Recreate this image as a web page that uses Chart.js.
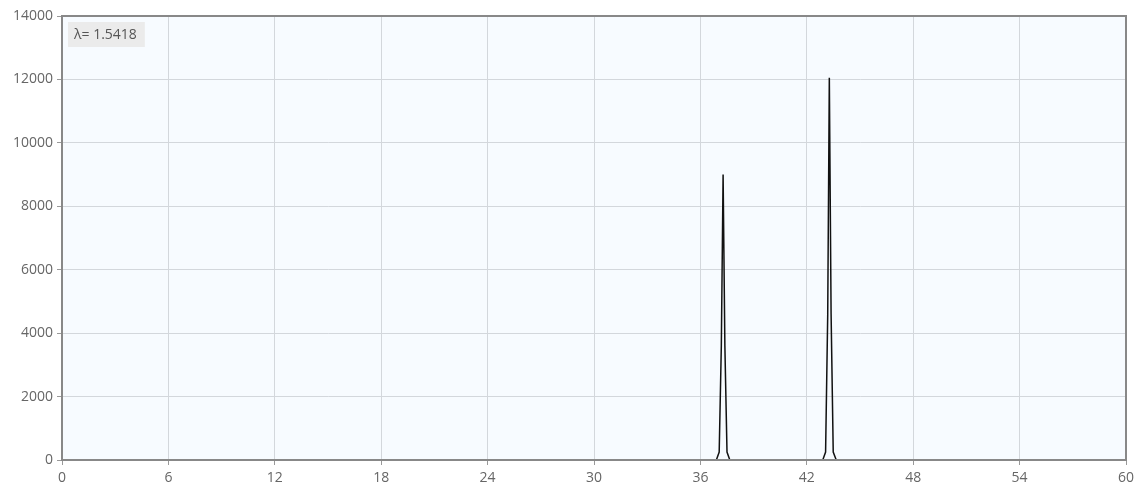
<!DOCTYPE html>
<html>
<head>
<meta charset="utf-8">
<script src="https://cdn.jsdelivr.net/npm/chart.js@4/dist/chart.umd.min.js"></script>
<style>
  html, body { margin: 0; padding: 0; background: #fff; }
  #wrap { width: 1142px; height: 496px; position: relative; }
</style>
</head>
<body>
<div id="wrap"><canvas id="xrd"></canvas></div>
<script>
// 2-theta positions and intensities
const twoTheta = [0, 36.9, 37.06, 37.18, 37.28, 37.38, 37.5, 37.66, 42.9, 43.06, 43.18, 43.27, 43.37, 43.49, 43.66, 60];
const intensity = [0, 0, 250, 3600, 9000, 3600, 250, 0, 0, 250, 4600, 12050, 4600, 250, 0, 0];
const xTicks = [0, 6, 12, 18, 24, 30, 36, 42, 48, 54, 60];
const yTicks = [0, 2000, 4000, 6000, 8000, 10000, 12000, 14000];
const wavelengthLabel = "λ= 1.5418";

const points = twoTheta.map((x, i) => ({ x: x, y: intensity[i] }));
const tickFont = { family: "'Open Sans', sans-serif", size: 14 };

// background, full frame and wavelength badge
const framePlugin = {
    id: "frame",
    beforeDraw(chart) {
        const { ctx, chartArea: a } = chart;
        ctx.save();
        ctx.fillStyle = "#f7fbff";
        ctx.fillRect(a.left, a.top, a.right - a.left, a.bottom - a.top);
        ctx.restore();
    },
    afterDraw(chart) {
        const { ctx, chartArea: a } = chart;
        ctx.save();
        ctx.strokeStyle = "#888";
        ctx.lineWidth = 2;
        ctx.strokeRect(a.left, a.top, a.right - a.left, a.bottom - a.top);
        ctx.font = "14px 'Open Sans', sans-serif";
        const w = ctx.measureText(wavelengthLabel).width;
        ctx.fillStyle = "#ebebeb";
        ctx.fillRect(a.left + 6, a.top + 6, w + 14, 25);
        ctx.fillStyle = "#555";
        ctx.textBaseline = "middle";
        ctx.fillText(wavelengthLabel, a.left + 12, a.top + 19);
        ctx.restore();
    }
};

new Chart(document.getElementById("xrd"), {
    type: "scatter",
    data: {
        datasets: [{
            data: points,
            showLine: true,
            borderColor: "#111",
            borderWidth: 1.5,
            pointRadius: 0,
            tension: 0
        }]
    },
    options: {
        responsive: true,
        maintainAspectRatio: false,
        animation: false,
        layout: { padding: { top: 16, right: 16, left: 0, bottom: 0 } },
        plugins: {
            legend: { display: false },
            tooltip: { enabled: false }
        },
        scales: {
            x: {
                type: "linear",
                min: 0,
                max: 60,
                afterBuildTicks: axis => { axis.ticks = xTicks.map(v => ({ value: v })); },
                afterFit: axis => { axis.height = 36; },
                grid: { color: "#d3d7dc", tickLength: 5, tickColor: "#999" },
                border: { color: "#777", width: 2 },
                ticks: { color: "#666", font: tickFont, padding: 5, callback: v => String(v) }
            },
            y: {
                min: 0,
                max: 14000,
                afterBuildTicks: axis => { axis.ticks = yTicks.map(v => ({ value: v })); },
                afterFit: axis => { axis.width = 62; },
                grid: { color: "#d3d7dc", tickLength: 5, tickColor: "#999" },
                border: { color: "#777", width: 2 },
                ticks: { color: "#666", font: tickFont, padding: 4, callback: v => String(v) }
            }
        }
    },
    plugins: [framePlugin]
});
</script>
</body>
</html>
